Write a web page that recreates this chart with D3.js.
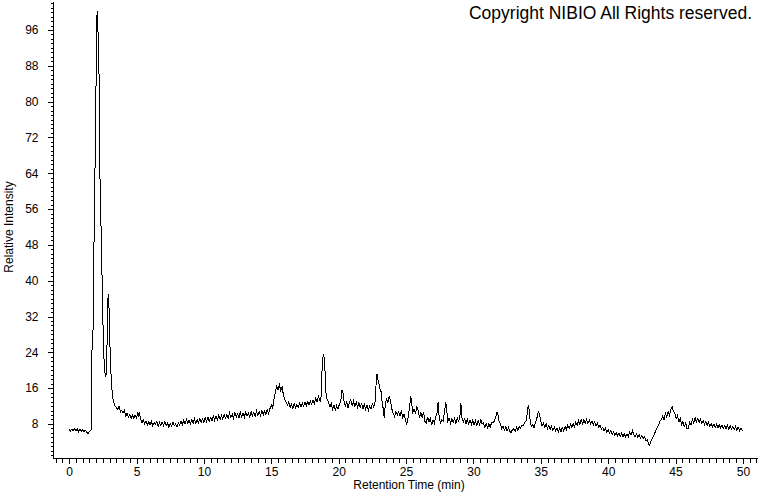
<!DOCTYPE html>
<html>
<head>
<meta charset="utf-8">
<script src="https://cdn.jsdelivr.net/npm/d3@7"></script>
<style>
  html, body { margin: 0; padding: 0; background: #fff; }
  svg { display: block; }
  text { font-family: "Liberation Sans", Arial, sans-serif; fill: #000; }
</style>
</head>
<body>
<svg id="chart" width="760" height="492"></svg>
<script>
// ---- data ----
const xMajorTicks = [0, 5, 10, 15, 20, 25, 30, 35, 40, 45, 50];
const yMajorTicks = [8, 16, 24, 32, 40, 48, 56, 64, 72, 80, 88, 96];
const xTitle = "Retention Time (min)";
const yTitle = "Relative Intensity";
const copyright = "Copyright NIBIO All Rights reserved.";

// [retention time (min), relative intensity]
const chromatogram = [
[0.0,6.7],[0.1,6.4],[0.2,6.9],[0.3,6.5],[0.4,7.0],[0.5,6.4],[0.6,6.9],[0.7,6.3],[0.8,6.8],[0.9,6.4],
[1.0,6.7],[1.1,6.2],[1.2,6.6],[1.3,6.1],[1.4,5.9],[1.5,6.3],[1.6,6.5],[1.67,7.0],
[1.70,27.0],[1.74,25.5],[1.78,30],[1.83,45],[1.88,58],[1.93,67.6],[1.98,80],[2.03,94],[2.06,99],[2.08,100.2],
[2.10,98],[2.15,95],[2.23,84],[2.28,64],[2.40,47],[2.55,24.5],[2.63,20],[2.70,18.5],[2.77,19.5],
[2.85,32],[2.89,37],[2.92,34.5],[2.95,35],[2.98,31],[3.06,22],[3.15,16.3],[3.26,13.4],[3.39,12.0],
[3.5,11.7],[3.6,11.2],[3.7,11.9],[3.8,10.7],[3.9,11.1],[4.0,10.4],[4.1,11.0],[4.2,9.8],[4.3,10.4],[4.4,9.5],
[4.5,10.2],[4.6,9.2],[4.7,9.9],[4.8,9.3],[4.9,10.0],[5.0,9.4],[5.1,10.5],[5.15,10.0],[5.2,10.6],[5.3,9.2],[5.4,8.2],
[5.5,8.9],[5.6,8.0],[5.7,8.7],[5.8,7.7],[5.9,8.5],[6.0,7.8],[6.1,8.6],[6.2,7.6],[6.3,8.3],[6.4,7.9],
[6.5,8.6],[6.6,7.5],[6.7,8.3],[6.8,7.6],[6.9,8.4],[7.0,7.7],[7.1,8.5],[7.2,7.6],[7.3,8.2],[7.4,7.3],
[7.5,8.1],[7.6,7.5],[7.7,8.4],[7.8,7.6],[7.9,8.0],[8.0,7.3],[8.1,8.3],[8.2,7.7],[8.3,8.7],[8.4,7.9],
[8.5,8.8],[8.6,8.0],[8.7,9.0],[8.8,8.1],[8.9,8.8],[9.0,8.0],[9.1,8.9],[9.2,8.2],[9.3,9.1],[9.4,8.1],
[9.5,9.0],[9.6,8.3],[9.7,9.2],[9.8,8.4],[9.9,9.1],[10.0,8.3],[10.1,9.4],[10.2,8.5],[10.3,9.5],[10.4,8.6],
[10.5,9.4],[10.6,8.7],[10.7,9.8],[10.8,8.8],[10.9,9.7],[11.0,8.9],[11.1,10.0],[11.2,9.0],[11.3,9.9],[11.4,9.1],
[11.5,10.2],[11.6,9.3],[11.7,10.1],[11.8,9.2],[11.9,10.4],[12.0,9.4],[12.1,10.2],[12.2,9.3],[12.3,10.5],[12.4,9.5],
[12.5,10.3],[12.6,9.4],[12.7,10.6],[12.8,9.6],[12.9,10.4],[13.0,9.5],[13.1,10.7],[13.2,9.7],[13.3,10.5],[13.4,9.6],
[13.5,10.8],[13.6,9.8],[13.7,10.6],[13.8,9.7],[13.9,10.9],[14.0,9.9],[14.1,10.7],[14.2,9.8],[14.3,11.0],[14.4,10.0],
[14.5,10.9],[14.6,10.1],[14.7,11.2],[14.8,10.3],[14.9,11.4],[15.0,12.2],[15.1,11.6],[15.2,13.5],[15.3,15.0],[15.4,16.4],
[15.5,15.6],[15.6,16.7],[15.7,15.5],[15.8,16.3],[15.9,14.5],[16.0,13.4],[16.1,12.8],[16.2,12.2],[16.3,12.9],[16.4,11.6],
[16.5,12.4],[16.6,11.5],[16.7,12.5],[16.8,11.6],[16.9,12.3],[17.0,11.7],[17.1,12.6],[17.2,11.8],[17.3,12.7],[17.4,12.0],
[17.5,12.8],[17.6,12.1],[17.7,13.0],[17.8,12.2],[17.9,13.1],[18.0,12.4],[18.1,13.3],[18.2,12.5],[18.3,13.7],[18.4,12.9],
[18.5,14.1],[18.6,13.2],[18.68,13.0],[18.74,18.5],[18.82,22.8],[18.88,23.6],[18.94,22.5],[19.0,19.0],[19.06,15.0],[19.15,13.4],
[19.25,12.9],[19.35,11.8],[19.45,12.6],[19.55,11.3],[19.65,12.2],[19.75,11.1],[19.85,12.1],[19.95,11.3],[20.05,12.4],[20.15,13.0],
[20.25,15.6],[20.32,15.0],[20.4,13.0],[20.5,12.0],[20.6,13.0],[20.7,11.6],[20.8,12.9],[20.9,13.4],[21.0,12.1],[21.1,13.1],
[21.2,11.8],[21.3,12.9],[21.4,11.7],[21.5,12.8],[21.6,11.5],[21.7,12.6],[21.8,11.3],[21.9,12.4],[22.0,11.2],[22.1,12.2],
[22.2,11.0],[22.3,12.0],[22.4,11.4],[22.5,12.5],[22.6,11.8],[22.7,13.0],[22.78,17.0],[22.84,19.2],[22.9,18.0],[22.96,17.4],
[23.05,16.0],[23.15,15.2],[23.22,13.0],[23.3,11.5],[23.38,9.3],[23.45,12.0],[23.55,13.7],[23.65,12.8],[23.75,14.1],[23.85,13.2],
[23.95,11.3],[24.05,10.4],[24.15,9.6],[24.25,10.8],[24.35,10.0],[24.45,10.7],[24.55,9.8],[24.65,11.0],[24.75,9.5],[24.85,10.2],
[24.95,9.0],[25.05,8.0],[25.15,9.3],[25.25,11.5],[25.35,14.2],[25.42,12.5],[25.5,10.6],[25.6,11.3],[25.7,10.2],[25.8,12.0],
[25.9,11.0],[26.0,9.3],[26.1,10.5],[26.2,9.4],[26.3,10.7],[26.4,8.6],[26.5,8.2],[26.6,9.6],[26.7,8.4],[26.8,9.2],
[26.9,7.7],[27.0,8.9],[27.1,8.2],[27.2,9.6],[27.3,10.5],[27.38,12.8],[27.45,9.8],[27.55,8.2],[27.65,9.0],[27.75,8.6],
[27.85,10.5],[27.95,12.8],[28.02,11.0],[28.1,8.6],[28.2,9.3],[28.3,8.2],[28.4,9.1],[28.5,8.3],[28.6,9.2],[28.7,8.1],
[28.8,9.3],[28.9,8.6],[29.0,9.8],[29.07,12.6],[29.14,9.5],[29.25,8.4],[29.35,9.2],[29.45,8.1],[29.55,9.0],[29.65,8.0],
[29.75,8.9],[29.85,7.9],[29.95,8.8],[30.05,7.8],[30.15,8.7],[30.25,7.7],[30.35,8.8],[30.45,7.9],[30.55,8.9],[30.65,8.0],
[30.75,8.2],[30.85,7.2],[30.95,8.0],[31.05,7.1],[31.15,8.1],[31.25,7.3],[31.35,8.3],[31.45,8.3],[31.55,8.6],[31.65,9.4],
[31.75,10.7],[31.82,10.0],[31.9,8.6],[32.0,8.0],[32.1,7.0],[32.2,7.6],[32.3,6.6],[32.4,7.4],[32.5,6.4],[32.6,7.2],
[32.7,6.3],[32.8,6.1],[32.9,6.8],[33.0,6.9],[33.1,6.4],[33.2,7.3],[33.3,6.6],[33.4,7.5],[33.5,7.0],[33.6,7.8],
[33.7,7.6],[33.8,8.3],[33.9,8.6],[34.0,10.5],[34.07,12.3],[34.14,11.0],[34.22,8.4],[34.3,7.5],[34.4,7.9],[34.5,7.2],
[34.6,8.3],[34.7,9.2],[34.82,10.7],[34.9,10.3],[35.0,8.5],[35.1,7.6],[35.2,8.2],[35.3,7.3],[35.4,8.0],[35.5,7.0],
[35.6,7.7],[35.7,6.8],[35.8,7.5],[35.9,6.5],[36.0,7.3],[36.1,6.4],[36.2,7.1],[36.3,6.2],[36.4,7.0],[36.5,6.3],
[36.6,7.2],[36.7,6.5],[36.8,7.4],[36.9,6.8],[37.0,7.7],[37.1,7.0],[37.2,7.9],[37.3,7.3],[37.4,8.1],[37.5,7.4],
[37.6,8.4],[37.7,7.7],[37.8,8.7],[37.9,7.9],[38.0,8.9],[38.1,8.0],[38.2,9.0],[38.3,8.2],[38.4,9.0],[38.5,8.1],
[38.6,8.9],[38.7,8.0],[38.8,8.7],[38.9,7.8],[39.0,8.5],[39.1,7.6],[39.2,8.1],[39.3,7.2],[39.4,7.7],[39.5,6.8],
[39.6,7.3],[39.7,6.4],[39.8,7.0],[39.9,6.1],[40.0,6.7],[40.1,5.9],[40.2,6.5],[40.3,5.7],[40.4,6.3],[40.5,5.5],
[40.6,6.1],[40.7,5.3],[40.8,6.0],[40.9,5.2],[41.0,5.9],[41.1,5.1],[41.2,5.8],[41.3,5.1],[41.4,5.8],[41.5,5.2],
[41.6,6.2],[41.7,5.5],[41.8,6.5],[41.9,5.6],[42.0,5.2],[42.1,5.8],[42.2,5.0],[42.3,5.6],[42.4,4.8],[42.5,5.4],
[42.6,4.7],[42.7,5.2],[42.8,4.3],[42.9,4.4],[43.0,3.6],[43.08,3.2],[43.15,3.9],[43.25,4.6],[43.35,5.3],[43.45,5.9],
[43.55,6.6],[43.65,7.2],[43.75,7.8],[43.85,8.6],[43.95,9.0],[44.05,9.8],[44.15,8.9],[44.25,10.4],[44.35,9.5],[44.45,10.8],
[44.55,10.0],[44.65,11.2],[44.75,11.9],[44.85,10.8],[44.95,10.3],[45.05,9.2],[45.15,9.9],[45.25,8.5],[45.35,9.2],[45.45,7.9],
[45.55,8.5],[45.65,7.4],[45.75,8.2],[45.85,7.0],[45.95,7.0],[46.05,8.4],[46.15,7.7],[46.25,9.0],[46.35,8.2],[46.45,9.4],
[46.55,8.5],[46.65,9.2],[46.75,8.3],[46.85,9.1],[46.95,8.1],[47.05,8.8],[47.15,7.9],[47.25,8.6],[47.35,7.7],[47.45,8.4],
[47.55,7.5],[47.65,8.1],[47.75,7.3],[47.85,8.0],[47.95,7.2],[48.05,7.9],[48.15,7.1],[48.25,7.8],[48.35,7.1],[48.45,7.8],
[48.55,7.0],[48.65,7.7],[48.75,6.9],[48.85,7.7],[48.95,6.8],[49.05,7.6],[49.15,6.8],[49.25,7.5],[49.35,6.7],[49.45,7.4],
[49.55,6.6],[49.65,7.3],[49.75,6.5],[49.85,7.1],[49.95,6.5]
];

// ---- drawing ----
const svg = d3.select("#chart");
const plotLeft = 53, plotRight = 758, plotTop = 2, plotBottom = 458;

const x = d3.scaleLinear().domain([-1.2, 51.12]).range([plotLeft, plotRight]);
const y = d3.scaleLinear().domain([0.4, 102.25]).range([plotBottom, plotTop]);

const xMinor = d3.range(-1, 51.01, 0.5).filter(v => xMajorTicks.indexOf(v) < 0);
const yMinor = d3.range(1, 102.01, 1).filter(v => yMajorTicks.indexOf(v) < 0);

// Minor ticks
svg.append("g").attr("transform", `translate(0,${plotBottom + 0.5})`)
  .call(d3.axisBottom(x).tickValues(xMinor).tickSize(4).tickFormat(""))
  .call(g => g.select(".domain").remove());
svg.append("g").attr("transform", `translate(${plotLeft + 0.5},0)`)
  .call(d3.axisLeft(y).tickValues(yMinor).tickSize(3).tickFormat(""))
  .call(g => g.select(".domain").remove());

// Major ticks + labels
svg.append("g").attr("transform", `translate(0,${plotBottom + 0.5})`)
  .call(d3.axisBottom(x).tickValues(xMajorTicks).tickSize(5).tickPadding(4).tickFormat(d3.format("d")))
  .call(g => g.select(".domain").remove());
svg.append("g").attr("transform", `translate(${plotLeft + 0.5},0)`)
  .call(d3.axisLeft(y).tickValues(yMajorTicks).tickSize(6).tickPadding(9).tickFormat(d3.format("d")))
  .call(g => g.select(".domain").remove());

svg.selectAll(".tick line").attr("stroke", "#000").attr("shape-rendering", "crispEdges");
svg.selectAll(".tick text").attr("font-size", 12).attr("font-family", "Liberation Sans, Arial, sans-serif").attr("fill", "#000");

// axis lines
svg.append("line").attr("x1", plotLeft + 0.5).attr("x2", plotLeft + 0.5).attr("y1", plotTop).attr("y2", plotBottom + 0.5)
  .attr("stroke", "#000").attr("shape-rendering", "crispEdges");
svg.append("line").attr("x1", plotLeft).attr("x2", plotRight).attr("y1", plotBottom + 0.5).attr("y2", plotBottom + 0.5)
  .attr("stroke", "#000").attr("shape-rendering", "crispEdges");

// trace
const line = d3.line().x(d => x(d[0])).y(d => y(d[1]));
svg.append("path").datum(chromatogram)
  .attr("d", line).attr("fill", "none").attr("stroke", "#000").attr("stroke-width", 1)
  .attr("stroke-linejoin", "miter").attr("shape-rendering", "crispEdges");

// titles
svg.append("text").attr("x", 409).attr("y", 489).attr("text-anchor", "middle")
  .attr("font-size", 12).text(xTitle);
svg.append("text").attr("transform", "translate(13,227) rotate(-90)").attr("text-anchor", "middle")
  .attr("font-size", 12).text(yTitle);
svg.append("text").attr("x", 752).attr("y", 19).attr("text-anchor", "end")
  .attr("font-size", 17.5).text(copyright);
</script>
</body>
</html>
